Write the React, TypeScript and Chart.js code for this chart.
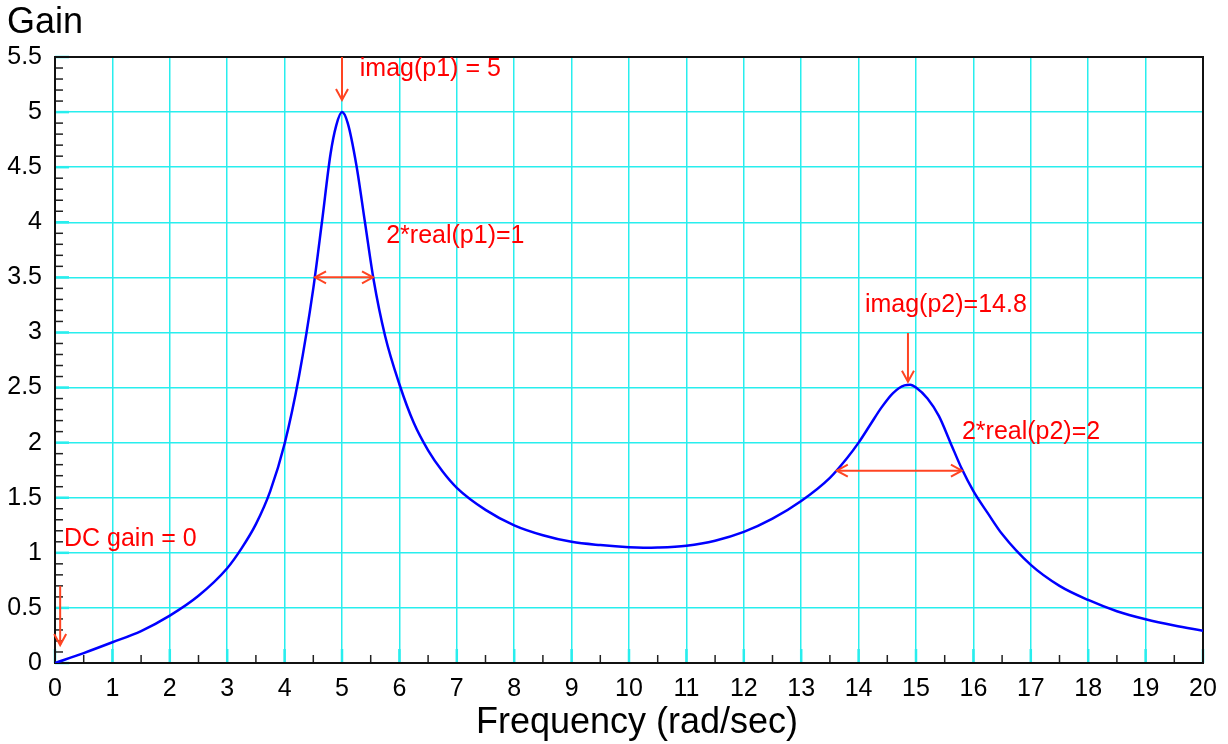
import React, { useEffect, useRef } from "react";
import { Chart, registerables } from "chart.js";

Chart.register(...registerables);

// ---- data ----
const freq = [
  0, 0.5, 1, 1.5, 2, 2.5, 3, 3.25, 3.5, 3.75, 4, 4.25, 4.5, 4.65, 4.8, 4.9, 5.0,
  5.1, 5.25, 5.4, 5.55, 5.75, 6, 6.25, 6.5, 6.75, 7, 7.5, 8, 8.5, 9, 9.5, 10, 10.25, 10.5,
  11, 11.5, 12, 12.5, 13, 13.5, 13.8, 14, 14.2, 14.4, 14.6, 14.8, 14.9, 15, 15.2, 15.4, 15.6,
  15.8, 16, 16.25, 16.5, 17, 17.5, 18, 18.5, 19, 19.5, 20,
];
const gain = [
  0, 0.09, 0.188, 0.29, 0.43, 0.61, 0.86, 1.04, 1.26, 1.56, 1.99, 2.6, 3.4, 4.0, 4.62, 4.88, 5.0,
  4.9, 4.52, 4.0, 3.48, 2.97, 2.53, 2.18, 1.93, 1.74, 1.59, 1.39, 1.25, 1.16, 1.1, 1.07, 1.05, 1.046, 1.048,
  1.065, 1.11, 1.19, 1.31, 1.47, 1.68, 1.86, 2.0, 2.16, 2.32, 2.45, 2.52, 2.525, 2.5, 2.4, 2.24, 2.0,
  1.76, 1.56, 1.36, 1.17, 0.89, 0.7, 0.572, 0.47, 0.397, 0.34, 0.293,
];
const xTickValues = [0, 1, 2, 3, 4, 5, 6, 7, 8, 9, 10, 11, 12, 13, 14, 15, 16, 17, 18, 19, 20];
const yTickValues = [0, 0.5, 1, 1.5, 2, 2.5, 3, 3.5, 4, 4.5, 5, 5.5];
const yTickLabels = ["0", "0.5", "1", "1.5", "2", "2.5", "3", "3.5", "4", "4.5", "5", "5.5"];

// annotations (data coordinates)
const vArrows = [
  { x: 5.0, from: 5.5, to: 5.11 },
  { x: 14.86, from: 2.995, to: 2.553 },
  { x: 0.09, from: 0.7, to: 0.163 },
];
const hArrows = [
  { y: 3.5, from: 4.53, to: 5.54 },
  { y: 1.745, from: 13.62, to: 15.8 },
];
const notes = [
  { text: "imag(p1) = 5", x: 5.31, y: 5.33 },
  { text: "2*real(p1)=1", x: 5.77, y: 3.81 },
  { text: "imag(p2)=14.8", x: 14.11, y: 3.19 },
  { text: "2*real(p2)=2", x: 15.8, y: 2.03 },
  { text: "DC gain = 0", x: 0.157, y: 1.06 },
];

const FONT = "'Liberation Sans', Arial, Helvetica, sans-serif";
const GRID = "rgb(40,238,238)";
const ARROW = "#ff4422";

function head(ctx: CanvasRenderingContext2D, x: number, y: number, dx: number, dy: number) {
  const L = 11, W = 6;
  const bx = x - dx * L, by = y - dy * L;
  const px = -dy, py = dx;
  ctx.beginPath();
  ctx.moveTo(bx + px * W, by + py * W);
  ctx.lineTo(x, y);
  ctx.lineTo(bx - px * W, by - py * W);
  ctx.stroke();
}

const decor = {
  id: "decor",
  beforeDatasetsDraw(chart: any) {
    const { ctx, chartArea: a, scales } = chart;
    const xs = scales.x, ys = scales.y;
    ctx.save();
    ctx.strokeStyle = GRID;
    ctx.lineWidth = 2.5;
    for (const v of yTickValues) {
      const p = ys.getPixelForValue(v);
      ctx.beginPath(); ctx.moveTo(a.left, p); ctx.lineTo(a.left + 14, p); ctx.stroke();
    }
    for (const v of xTickValues) {
      const p = xs.getPixelForValue(v);
      ctx.beginPath(); ctx.moveTo(p, a.bottom); ctx.lineTo(p, a.bottom - 14); ctx.stroke();
    }
    ctx.strokeStyle = "#222";
    ctx.lineWidth = 1.5;
    for (let i = 0; i <= 55; i++) {
      if (i % 5 === 0) continue;
      const p = ys.getPixelForValue(i / 10);
      ctx.beginPath(); ctx.moveTo(a.left, p); ctx.lineTo(a.left + 8, p); ctx.stroke();
    }
    for (let i = 1; i < 40; i += 2) {
      const p = xs.getPixelForValue(i / 2);
      ctx.beginPath(); ctx.moveTo(p, a.bottom); ctx.lineTo(p, a.bottom - 8); ctx.stroke();
    }
    ctx.strokeStyle = "#111";
    ctx.lineWidth = 2;
    ctx.strokeRect(a.left, a.top, a.right - a.left, a.bottom - a.top);
    ctx.restore();
  },
  afterDatasetsDraw(chart: any) {
    const { ctx, scales } = chart;
    const xs = scales.x, ys = scales.y;
    ctx.save();
    ctx.strokeStyle = ARROW;
    ctx.lineWidth = 2;
    for (const v of vArrows) {
      const x = xs.getPixelForValue(v.x);
      const y1 = ys.getPixelForValue(v.from), y2 = ys.getPixelForValue(v.to);
      ctx.beginPath(); ctx.moveTo(x, y1); ctx.lineTo(x, y2); ctx.stroke();
      head(ctx, x, y2, 0, 1);
    }
    for (const h of hArrows) {
      const y = ys.getPixelForValue(h.y);
      const x1 = xs.getPixelForValue(h.from), x2 = xs.getPixelForValue(h.to);
      ctx.beginPath(); ctx.moveTo(x1, y); ctx.lineTo(x2, y); ctx.stroke();
      head(ctx, x1, y, -1, 0);
      head(ctx, x2, y, 1, 0);
    }
    ctx.fillStyle = "#ff0000";
    ctx.font = `25px ${FONT}`;
    ctx.textBaseline = "alphabetic";
    ctx.textAlign = "left";
    for (const n of notes) {
      ctx.fillText(n.text, xs.getPixelForValue(n.x), ys.getPixelForValue(n.y));
    }
    ctx.fillStyle = "#000";
    ctx.font = `36px ${FONT}`;
    ctx.fillText("Gain", 7, 33);
    ctx.textAlign = "center";
    ctx.fillText("Frequency (rad/sec)", 637, 733);
    ctx.restore();
  },
};

export default function App() {
  const ref = useRef<HTMLCanvasElement>(null);
  useEffect(() => {
    if (!ref.current) return;
    const points = freq.map((f, i) => ({ x: f, y: gain[i] }));
    const chart = new Chart(ref.current, {
      type: "line",
      data: {
        datasets: [
          {
            data: points,
            borderColor: "#0000ff",
            borderWidth: 2.5,
            pointRadius: 0,
            fill: false,
            cubicInterpolationMode: "monotone",
          },
        ],
      },
      options: {
        responsive: false,
        animation: false,
        events: [],
        layout: { padding: { left: 0, top: 57, right: 25, bottom: 0 } },
        plugins: { legend: { display: false }, tooltip: { enabled: false } },
        scales: {
          x: {
            type: "linear",
            min: 0,
            max: 20,
            afterBuildTicks: (s: any) => {
              s.ticks = xTickValues.map((v) => ({ value: v }));
            },
            afterFit: (s: any) => {
              s.height = 81;
            },
            grid: { color: GRID, lineWidth: 1.5, drawTicks: false },
            border: { display: false },
            ticks: {
              color: "#000",
              padding: 11,
              maxRotation: 0,
              autoSkip: false,
              font: { family: FONT, size: 25 },
              callback: (v: any) => String(v),
            },
          },
          y: {
            type: "linear",
            min: 0,
            max: 5.5,
            afterBuildTicks: (s: any) => {
              s.ticks = yTickValues.map((v) => ({ value: v }));
            },
            afterFit: (s: any) => {
              s.width = 55;
            },
            grid: { color: GRID, lineWidth: 1.5, drawTicks: false },
            border: { display: false },
            ticks: {
              color: "#000",
              padding: 13,
              autoSkip: false,
              font: { family: FONT, size: 25 },
              callback: (v: any) => {
                const i = yTickValues.indexOf(Number(v));
                return i >= 0 ? yTickLabels[i] : String(v);
              },
            },
          },
        },
      },
      plugins: [decor],
    });
    return () => chart.destroy();
  }, []);
  return (
    <div style={{ position: "fixed", left: 0, top: 0, width: 1228, height: 744, background: "#fff" }}>
      <canvas ref={ref} width={1228} height={744} />
    </div>
  );
}
